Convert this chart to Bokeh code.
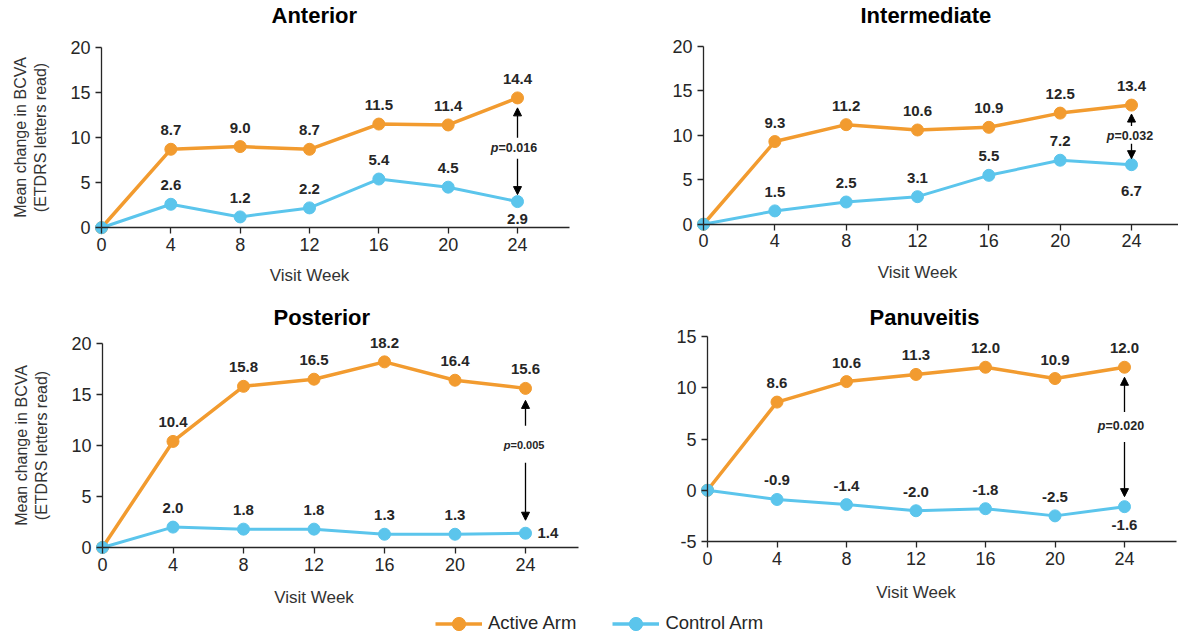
from bokeh.plotting import figure
from bokeh.models import (Range1d, LinearAxis, FixedTicker, ColumnDataSource,
                          Arrow, NormalHead, Legend, LegendItem)
from bokeh.layouts import column, row
from bokeh.core.properties import value
from bokeh.embed import file_html
from bokeh.resources import INLINE

# ---------------- data ----------------
weeks = [0, 4, 8, 12, 16, 20, 24]
week_ticks = [0, 4, 8, 12, 16, 20, 24]

anterior_active = [0, 8.7, 9.0, 8.7, 11.5, 11.4, 14.4]
anterior_control = [0, 2.6, 1.2, 2.2, 5.4, 4.5, 2.9]
intermediate_active = [0, 9.3, 11.2, 10.6, 10.9, 12.5, 13.4]
intermediate_control = [0, 1.5, 2.5, 3.1, 5.5, 7.2, 6.7]
posterior_active = [0, 10.4, 15.8, 16.5, 18.2, 16.4, 15.6]
posterior_control = [0, 2.0, 1.8, 1.8, 1.3, 1.3, 1.4]
panuveitis_active = [0, 8.6, 10.6, 11.3, 12.0, 10.9, 12.0]
panuveitis_control = [0, -0.9, -1.4, -2.0, -1.8, -2.5, -1.6]

panel_titles = ["Anterior", "Intermediate", "Posterior", "Panuveitis"]
p_values = ["0.016", "0.032", "0.005", "0.020"]
y_ticks_main = [0, 5, 10, 15, 20]
y_ticks_panuveitis = [-5, 0, 5, 10, 15]
series_names = ["Active Arm", "Control Arm"]
x_axis_title = "Visit Week"
y_axis_title = "Mean change in BCVA\n(ETDRS letters read)"

# ---------------- style ----------------
ACTIVE = "#F29B2F"
CONTROL = "#5BC5EC"
TEXT = "#262626"
BASE_FONT = "Liberation Sans"
LABEL_FONT = "Liberation Sans"

# layout (page pixels) for each panel
layouts = [
    dict(W=600, H=286, ox=0, oy=0, x0=101, x24=517, ylo=227, yhi=46, top=26, t_stand=0,
         title_off=271, xlab=38, ylabel=True, ctrl_last=("below", 17),
         p_dy=-2, gap_up=10, gap_dn=11, tip_up=10, tip_dn=7, p_size="12.5px", p_split=-19),
    dict(W=578, H=286, ox=600, oy=0, x0=703, x24=1131, ylo=223.5, yhi=45, top=26, t_stand=0,
         title_off=260, xlab=38, ylabel=False, ctrl_last=("below", 26),
         p_dy=1, gap_up=10, gap_dn=8, tip_up=9, tip_dn=6, p_size="12.5px", p_split=-17),
    dict(W=600, H=320, ox=0, oy=286, x0=102, x24=525, ylo=547, yhi=343, top=39, t_stand=-8,
         title_off=273, xlab=40, ylabel=True, ctrl_last=("right", 12),
         p_dy=-16, gap_up=19, gap_dn=18, tip_up=12, tip_dn=13, p_size="11px", p_split=-15),
    dict(W=578, H=320, ox=600, oy=286, x0=707, x24=1124, ylo=541, yhi=336, top=39, t_stand=-8,
         title_off=269, xlab=41, ylabel=False, ctrl_last=("below", 18),
         p_dy=-11, gap_up=14, gap_dn=16, tip_up=10, tip_dn=10, p_size="12.5px", p_split=-19),
]


def style_axis(ax):
    ax.axis_line_color = TEXT
    ax.axis_line_width = 1.3
    ax.major_tick_line_color = TEXT
    ax.major_tick_line_width = 1.3
    ax.major_tick_in = 0
    ax.major_tick_out = 6
    ax.minor_tick_line_color = None
    ax.major_label_text_font = BASE_FONT
    ax.major_label_text_font_size = "18px"
    ax.major_label_text_color = TEXT
    ax.major_label_standoff = 4
    ax.axis_label_text_font = BASE_FONT
    ax.axis_label_text_font_style = "normal"
    ax.axis_label_text_color = "#333333"


def make_panel(title, active, control, y_ticks, pval, lay):
    W, H, ox, oy, top = lay["W"], lay["H"], lay["ox"], lay["oy"], lay["top"]
    kx = (lay["x24"] - lay["x0"]) / float(weeks[-1])
    ylo, yhi = y_ticks[0], y_ticks[-1]
    ky = (lay["ylo"] - lay["yhi"]) / float(yhi - ylo)
    x_start = -(lay["x0"] - ox) / kx
    x_end = x_start + W / kx
    fylo = lay["ylo"] - oy
    y_start = ylo - (H - fylo) / ky
    y_end = y_start + (H - top) / ky

    p = figure(width=W, height=H, x_range=Range1d(x_start, x_end),
               y_range=Range1d(y_start, y_end),
               x_axis_location=None, y_axis_location=None,
               toolbar_location=None, output_backend="svg",
               min_border=0, min_border_top=top,
               outline_line_color=None, background_fill_color="white",
               border_fill_color="white")
    for g in p.grid:
        g.visible = False

    p.title.text = title
    p.title.text_font = BASE_FONT
    p.title.text_font_size = "22px"
    p.title.text_font_style = "bold"
    p.title.text_color = "black"
    p.title.align = "left"
    p.title.offset = lay["title_off"]
    p.title.standoff = lay["t_stand"]

    # axes
    xaxis = LinearAxis(fixed_location=ylo, bounds=(0, 27),
                       ticker=FixedTicker(ticks=week_ticks))
    style_axis(xaxis)
    p.add_layout(xaxis, "below")

    xlab = LinearAxis(fixed_location=ylo, bounds=(weeks[0], weeks[-1]),
                      ticker=FixedTicker(ticks=[]), axis_label=x_axis_title)
    style_axis(xlab)
    xlab.axis_line_color = None
    xlab.major_tick_line_color = None
    xlab.major_tick_out = 0
    xlab.axis_label_text_font_size = "17px"
    xlab.axis_label_standoff = lay["xlab"]
    p.add_layout(xlab, "below")

    yaxis = LinearAxis(fixed_location=weeks[0], bounds=(ylo, yhi),
                       ticker=FixedTicker(ticks=y_ticks),
                       axis_label=y_axis_title if lay["ylabel"] else None)
    style_axis(yaxis)
    yaxis.major_label_standoff = 5
    yaxis.major_label_overrides = {t: str(t) for t in y_ticks}
    yaxis.axis_label_text_font_size = "16px"
    yaxis.axis_label_standoff = 18
    p.add_layout(yaxis, "left")

    # series
    src_a = ColumnDataSource(dict(x=weeks, y=active))
    src_c = ColumnDataSource(dict(x=weeks, y=control))
    p.line("x", "y", source=src_a, line_color=ACTIVE, line_width=3.5)
    p.scatter("x", "y", source=src_a, size=12, fill_color=ACTIVE, line_color=ACTIVE)
    p.line("x", "y", source=src_c, line_color=CONTROL, line_width=3)
    p.scatter("x", "y", source=src_c, size=12, fill_color=CONTROL, line_color=CONTROL)

    # value labels
    n = len(weeks) - 1
    lab_a = ColumnDataSource(dict(x=weeks[1:], y=active[1:],
                                  t=["%.1f" % v for v in active[1:]]))
    p.text("x", "y", text="t", source=lab_a, y_offset=-19,
           text_align="center", text_baseline="middle",
           text_font=value(LABEL_FONT), text_font_size="15px",
           text_font_style="bold", text_color=TEXT)

    xo = [0] * n
    yo = [-19] * n
    al = ["center"] * n
    kind, off = lay["ctrl_last"]
    if kind == "below":
        yo[-1] = off
    else:
        yo[-1] = 0
        xo[-1] = off
        al[-1] = "left"
    lab_c = ColumnDataSource(dict(x=weeks[1:], y=control[1:],
                                  t=["%.1f" % v for v in control[1:]],
                                  xo=xo, yo=yo, al=al))
    p.text("x", "y", text="t", source=lab_c, x_offset="xo", y_offset="yo",
           text_align="al", text_baseline="middle",
           text_font=value(LABEL_FONT), text_font_size="15px",
           text_font_style="bold", text_color=TEXT)

    # p-value annotation
    xl = weeks[-1]
    a_last, c_last = active[-1], control[-1]
    y_mid = (a_last + c_last) / 2.0 - lay["p_dy"] / ky
    psrc = ColumnDataSource(dict(x=[xl], y=[y_mid], p=["p"], v=["=" + pval]))
    p.text("x", "y", text="p", source=psrc, x_offset=lay["p_split"],
           text_align="right", text_baseline="middle",
           text_font=value(LABEL_FONT), text_font_size=lay["p_size"],
           text_font_style="bold italic", text_color=TEXT)
    p.text("x", "y", text="v", source=psrc, x_offset=lay["p_split"],
           text_align="left", text_baseline="middle",
           text_font=value(LABEL_FONT), text_font_size=lay["p_size"],
           text_font_style="bold", text_color=TEXT)

    up_start = y_mid + lay["gap_up"] / ky
    up_end = a_last - lay["tip_up"] / ky
    dn_start = y_mid - lay["gap_dn"] / ky
    dn_end = c_last + lay["tip_dn"] / ky
    for ys, ye in [(up_start, up_end), (dn_start, dn_end)]:
        p.add_layout(Arrow(end=NormalHead(size=8, fill_color="black",
                                          line_color="black", line_width=1),
                           x_start=xl, y_start=ys, x_end=xl, y_end=ye,
                           line_color="black", line_width=1.3))
    return p


panels = []
data_sets = [
    (anterior_active, anterior_control, y_ticks_main),
    (intermediate_active, intermediate_control, y_ticks_main),
    (posterior_active, posterior_control, y_ticks_main),
    (panuveitis_active, panuveitis_control, y_ticks_panuveitis),
]
for i, (a, c, yt) in enumerate(data_sets):
    panels.append(make_panel(panel_titles[i], a, c, yt, p_values[i], layouts[i]))

# legend strip: proxy renderers (one point each) kept outside the visible range
lf = figure(width=1178, height=30, x_range=Range1d(-1001, -1000), y_range=Range1d(0, 1),
            x_axis_location=None, y_axis_location=None, toolbar_location=None,
            output_backend="svg", min_border=0, outline_line_color=None)
for g in lf.grid:
    g.visible = False
proxy_a = ColumnDataSource(dict(x=weeks[:1], y=anterior_active[:1]))
proxy_c = ColumnDataSource(dict(x=weeks[:1], y=anterior_control[:1]))
ra_l = lf.line("x", "y", source=proxy_a, line_color=ACTIVE, line_width=3.5)
ra_s = lf.scatter("x", "y", source=proxy_a, size=13, fill_color=ACTIVE, line_color=ACTIVE)
rc_l = lf.line("x", "y", source=proxy_c, line_color=CONTROL, line_width=3.5)
rc_s = lf.scatter("x", "y", source=proxy_c, size=13, fill_color=CONTROL, line_color=CONTROL)
legend = Legend(items=[LegendItem(label=series_names[0], renderers=[ra_l, ra_s]),
                       LegendItem(label=series_names[1], renderers=[rc_l, rc_s])],
                orientation="horizontal", location=(435, -3.5),
                glyph_width=47, glyph_height=33, label_standoff=6, spacing=36,
                padding=0, margin=0, border_line_color=None,
                background_fill_alpha=0, label_text_font=BASE_FONT,
                label_text_font_size="18.5px", label_text_color=TEXT)
lf.add_layout(legend)

layout = column(row(panels[0], panels[1]), row(panels[2], panels[3]), lf)
open("out.html", "w").write(file_html(layout, INLINE))
